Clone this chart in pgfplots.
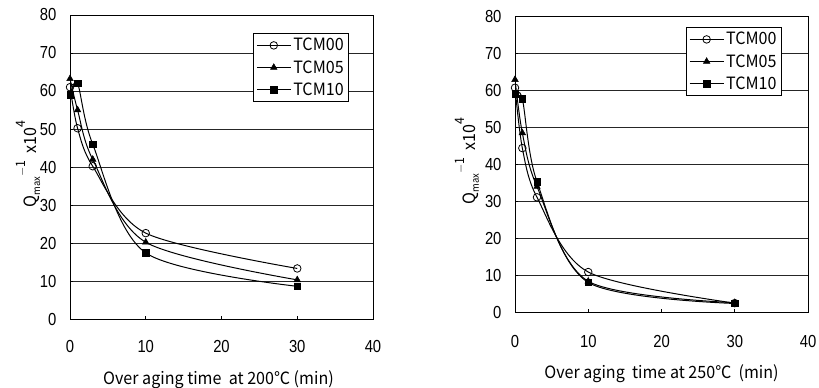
\documentclass[border=0pt]{standalone}
\usepackage{fontspec}
\setmainfont[FakeStretch=0.85]{Liberation Sans}
\newfontfamily\cjk[FakeStretch=0.95]{Noto Sans CJK JP}
\usepackage{pgfplots}
\pgfplotsset{compat=1.18}
\newcommand{\yl}{{\cjk Q\raisebox{-0.4ex}{\fontsize{10}{10}\selectfont max}\raisebox{1.2ex}{\fontsize{13}{10}\selectfont $-$1}\ \ x10\raisebox{1.2ex}{\fontsize{13}{10}\selectfont 4}}}
\pgfplotsset{
  myax/.style={
    scale only axis,
    anchor=south west,
    xmin=0, xmax=40, ymin=0, ymax=80,
    xtick={0,10,20,30,40},
    ytick={0,10,...,80},
    ymajorgrids,
    major grid style={black!85, line width=0.6pt},
    axis line style={black, line width=0.9pt},
    tick align=inside,
    major tick length=3bp,
    xtick pos=bottom, ytick pos=left,
    tick style={black, line width=0.6pt},
    /pgf/number format/assume math mode=true,
    tick label style={font=\fontsize{17.5}{19}\selectfont},
    label style={font=\cjk\fontsize{17}{19}\selectfont},
    yticklabel style={anchor=east, xshift=-10bp},
    legend cell align=left,
    legend style={font=\cjk\fontsize{17}{19}\selectfont, draw=black, line width=0.8pt, anchor=north east, inner sep=3bp, row sep=4bp},
    legend image code/.code={\draw[mark repeat=2,mark phase=2] plot coordinates {(0cm,0cm) (0.6cm,0cm) (1.2cm,0cm)};},
    every axis plot/.append style={black, line width=1pt, smooth, tension=0.5},
  },
  s00/.style={mark=o, mark size=3.8pt, mark options={fill=white, line width=0.8pt}},
  s05/.style={mark=triangle*, mark size=3.8pt, mark options={line width=0.5pt}},
  s10/.style={mark=square*, mark size=3.2pt, mark options={line width=0.5pt}},
}
\begin{document}
\begin{tikzpicture}
\useasboundingbox (0,0) rectangle (819bp,388bp);
\begin{axis}[myax, at={(70bp,69bp)}, width=303bp, height=304bp,
  xticklabel style={anchor=center, yshift=-27bp},
  xlabel={Over aging time\ \ at 200℃ (min)},
  xlabel style={at={(axis description cs:0.49,-0.2)}, anchor=center},
  ylabel={\yl},
  ylabel style={at={(axis description cs:-0.138,0.51)}, anchor=center},
  legend style={at={(axis description cs:0.921,0.941)}},
]
\addplot[s00] coordinates {(0,61) (1,50.2) (3,40.2) (10,22.6) (30,13.3)};
\addplot[s05] coordinates {(0,63.2) (1,55) (3,42) (10,20.2) (30,10.3)};
\addplot[s10] coordinates {(0,59) (1,62) (3,46) (10,17.4) (30,8.6)};
\legend{TCM00,TCM05,TCM10}
\end{axis}
\begin{axis}[myax, at={(515bp,76bp)}, width=293bp, height=296bp,
  xticklabel style={anchor=center, yshift=-29bp},
  xlabel={Over aging\ \ time at 250℃\ \ (min)},
  xlabel style={at={(axis description cs:0.5,-0.21)}, anchor=center},
  ylabel={\yl},
  ylabel style={at={(axis description cs:-0.164,0.51)}, anchor=center},
  legend style={at={(axis description cs:0.911,0.963)}},
]
\addplot[s00] coordinates {(0,60.6) (1,44.3) (3,31) (10,10.8) (30,2.4)};
\addplot[s05] coordinates {(0,62.8) (1,48.4) (3,33.9) (10,8.3) (30,2.5)};
\addplot[s10] coordinates {(0,59) (1,57.6) (3,35.2) (10,8) (30,2.3)};
\legend{TCM00,TCM05,TCM10}
\end{axis}
\end{tikzpicture}
\end{document}
